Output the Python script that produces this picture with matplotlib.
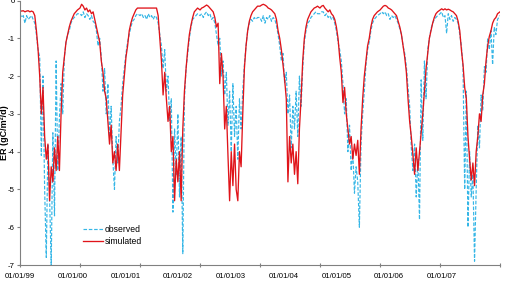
import numpy as np
import pandas as pd
import matplotlib
matplotlib.use("Agg")
import matplotlib.pyplot as plt
import matplotlib.dates as mdates

plt.rcParams['font.family'] = ['Liberation Sans', 'DejaVu Sans']
plt.rcParams['axes.unicode_minus'] = False

# one value every 10 days, 36 per year (1999 - 2006), last value on 01/01/2007
years = [1999, 2000, 2001, 2002, 2003, 2004, 2005, 2006]

observed = [
    -0.35, -0.45, -0.4, -0.6, -0.4, -0.5, -0.45, -0.4, -0.5, -0.6, -0.9, -1.3, -1.5, -4.1, -2.0, -5.0, -6.8, -3.8,
    -5.2, -7.0, -3.5, -5.7, -1.6, -4.5, -3.1, -2.2, -3.0, -1.5, -1.1, -0.9, -0.8, -0.6, -0.5, -0.45, -0.4, -0.35,
    -0.35, -0.4, -0.3, -0.45, -0.35, -0.4, -0.5, -0.4, -0.55, -0.6, -0.8, -1.2, -1.0, -1.5, -2.4, -1.8, -3.0, -2.2,
    -3.6, -2.8, -4.2, -5.0, -3.6, -4.3, -3.2, -2.8, -2.2, -1.8, -1.4, -1.1, -0.9, -0.7, -0.55, -0.5, -0.4, -0.35,
    -0.4, -0.35, -0.45, -0.4, -0.5, -0.35, -0.45, -0.4, -0.5, -0.4, -0.45, -0.6, -0.9, -1.2, -1.8, -1.3, -2.4, -2.0,
    -3.2, -2.6, -5.6, -3.4, -4.6, -3.0, -5.2, -3.6, -6.7, -2.6, -1.8, -1.4, -1.0, -0.7, -0.5, -0.45, -0.4, -0.35,
    -0.4, -0.35, -0.45, -0.35, -0.3, -0.4, -0.35, -0.5, -0.45, -0.6, -0.9, -1.2, -1.0, -2.0, -1.6, -2.5, -1.9, -3.3,
    -2.4, -4.0, -2.2, -3.6, -2.8, -4.2, -2.6, -3.4, -2.4, -1.7, -1.2, -0.8, -0.6, -0.5, -0.55, -0.45, -0.5, -0.45,
    -0.45, -0.55, -0.4, -0.6, -0.45, -0.5, -0.4, -0.55, -0.45, -0.5, -0.65, -0.9, -1.2, -1.6, -1.4, -2.2, -1.9, -3.0,
    -2.5, -3.9, -2.8, -3.4, -2.4, -3.6, -2.0, -2.8, -1.8, -1.1, -0.8, -0.6, -0.55, -0.45, -0.4, -0.35, -0.3, -0.35,
    -0.35, -0.3, -0.3, -0.4, -0.35, -0.45, -0.4, -0.5, -0.45, -0.6, -0.8, -1.1, -1.3, -1.6, -2.2, -3.0, -2.6, -4.0,
    -3.3, -4.5, -4.0, -5.1, -4.4, -4.8, -6.0, -3.8, -3.0, -2.4, -1.7, -1.3, -1.1, -0.8, -0.6, -0.5, -0.45, -0.4,
    -0.35, -0.3, -0.35, -0.3, -0.4, -0.35, -0.5, -0.4, -0.45, -0.4, -0.5, -0.6, -0.75, -0.9, -1.2, -1.4, -1.75, -2.3,
    -2.8, -3.9, -4.5, -3.8, -5.2, -4.2, -5.8, -2.1, -3.7, -1.6, -2.6, -1.3, -1.0, -0.75, -0.6, -0.5, -0.45, -0.4,
    -0.35, -0.3, -0.45, -0.4, -0.87, -0.35, -0.5, -0.4, -0.55, -0.45, -0.5, -0.6, -0.9, -1.2, -1.8, -5.0, -2.4, -6.0,
    -4.0, -5.2, -4.6, -6.9, -5.0, -3.3, -3.9, -2.5, -2.9, -1.75, -1.9, -1.0, -1.3, -0.8, -1.7, -0.7, -0.9, -0.5,
    -0.4,
]

simulated = [
    -0.27, -0.28, -0.27, -0.3, -0.28, -0.27, -0.3, -0.28, -0.3, -0.4, -0.8, -1.3, -2.0, -3.0, -2.3, -3.6, -4.2, -3.8,
    -5.3, -4.4, -4.8, -3.9, -4.5, -3.6, -4.5, -3.0, -1.9, -1.5, -1.1, -0.9, -0.7, -0.55, -0.45, -0.35, -0.3, -0.25,
    -0.2, -0.1, -0.15, -0.25, -0.2, -0.3, -0.25, -0.35, -0.3, -0.5, -0.7, -0.9, -1.1, -1.6, -1.9, -2.4, -2.6, -3.2,
    -3.8, -3.3, -4.3, -4.0, -4.5, -3.8, -4.5, -3.5, -2.5, -2.0, -1.5, -1.2, -0.8, -0.6, -0.45, -0.35, -0.25, -0.2,
    -0.2, -0.2, -0.2, -0.2, -0.2, -0.2, -0.2, -0.2, -0.2, -0.2, -0.2, -0.4, -1.0, -1.6, -2.5, -1.9, -2.6, -3.2,
    -2.8, -4.0, -3.6, -5.3, -4.2, -4.8, -4.0, -5.3, -3.4, -2.4, -1.8, -1.3, -0.9, -0.65, -0.45, -0.3, -0.25, -0.2,
    -0.25, -0.2, -0.18, -0.15, -0.12, -0.15, -0.2, -0.25, -0.3, -0.45, -0.7, -0.6, -2.2, -1.4, -2.0, -3.4, -2.8, -4.1,
    -5.3, -4.0, -4.9, -3.8, -5.0, -5.3, -4.0, -4.4, -3.0, -1.8, -1.2, -0.8, -0.55, -0.4, -0.3, -0.25, -0.2, -0.15,
    -0.15, -0.12, -0.1, -0.12, -0.15, -0.2, -0.22, -0.25, -0.3, -0.35, -0.5, -0.8, -1.0, -1.3, -1.7, -2.1, -2.6, -4.8,
    -3.6, -4.3, -3.8, -4.6, -4.0, -4.85, -3.4, -2.6, -1.6, -1.0, -0.7, -0.5, -0.4, -0.3, -0.25, -0.2, -0.18, -0.15,
    -0.2, -0.15, -0.13, -0.2, -0.25, -0.3, -0.25, -0.35, -0.4, -0.5, -0.7, -1.0, -1.5, -1.9, -2.7, -2.3, -3.0, -3.4,
    -3.8, -3.6, -4.2, -3.8, -4.1, -3.7, -4.6, -3.4, -2.6, -2.0, -1.6, -1.2, -1.0, -0.7, -0.5, -0.4, -0.35, -0.3,
    -0.25, -0.2, -0.15, -0.13, -0.15, -0.2, -0.22, -0.25, -0.3, -0.35, -0.4, -0.55, -0.7, -0.9, -1.2, -1.5, -1.9, -2.6,
    -3.2, -3.6, -4.1, -4.6, -3.9, -4.5, -4.0, -3.5, -3.0, -2.4, -1.8, -1.4, -1.0, -0.8, -0.6, -0.45, -0.35, -0.3,
    -0.25, -0.22, -0.25, -0.22, -0.25, -0.23, -0.25, -0.28, -0.3, -0.35, -0.4, -0.55, -0.8, -1.3, -1.7, -2.3, -2.6, -3.6,
    -4.2, -4.75, -4.3, -4.9, -4.0, -3.6, -3.0, -3.2, -2.5, -2.2, -1.6, -1.2, -0.95, -0.8, -0.6, -0.5, -0.45, -0.35,
    -0.3,
]

x_labels = ['01/01/99', '01/01/00', '01/01/01', '01/01/02', '01/01/03',
            '01/01/04', '01/01/05', '01/01/06', '01/01/07']
y_ticks = [0, -1, -2, -3, -4, -5, -6, -7]

# Build the date for every value
dates = []
for y in years:
    dates += list(pd.Timestamp(f"{y}-01-01") + pd.to_timedelta(np.arange(36) * 10, unit="D"))
dates.append(pd.Timestamp("2007-01-01"))

fig = plt.figure(figsize=(5.05, 2.82), dpi=100)
ax = fig.add_axes([20 / 505, 1 - 265 / 282, 480 / 505, 264.5 / 282])

ax.plot(dates, observed, color='#35B6E6', lw=0.85, dashes=(3, 1.5), label='observed')
ax.plot(dates, simulated, color='#E0141A', lw=0.95, label='simulated')

ax.set_xlim(pd.Timestamp("1999-01-01"), pd.Timestamp("2007-01-01"))
ax.set_ylim(-7, 0)

# year tick marks without text, the date labels sit on their own spacing
ax.xaxis.remove_overlapping_locs = False
ax.xaxis.set_major_locator(mdates.YearLocator())
ax.xaxis.set_major_formatter(plt.NullFormatter())
label_pos = pd.Timestamp("1999-01-01") + pd.to_timedelta(np.arange(len(x_labels)) * 321, unit="D")
ax.set_xticks(mdates.date2num(label_pos), x_labels, minor=True)
ax.tick_params(axis='x', which='major', direction='inout', length=3, width=0.8, color='#808080')
ax.tick_params(axis='x', which='minor', length=0, pad=6, labelsize=5.6)

ax.set_yticks(y_ticks)
ax.set_yticklabels([str(v) for v in y_ticks])
ax.tick_params(axis='y', direction='out', length=2.2, width=0.8, color='#808080', pad=1.5, labelsize=5.6)

for side in ['top', 'right']:
    ax.spines[side].set_visible(False)
for side in ['left', 'bottom']:
    ax.spines[side].set_color('#808080')
    ax.spines[side].set_linewidth(0.8)

ax.set_ylabel('ER (gC/m²/d)', fontsize=6.5, fontweight='bold')
ax.yaxis.set_label_coords(-0.023, 0.5)

ax.legend(loc='upper left', bbox_to_anchor=(0.131, 0.153), frameon=False, fontsize=6.2,
          handlelength=2.3, handletextpad=0.25, labelspacing=0.4, borderpad=0, borderaxespad=0)

plt.savefig('out.png', dpi=100)
